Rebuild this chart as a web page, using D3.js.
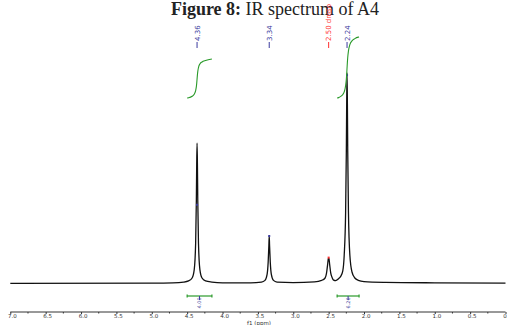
<!DOCTYPE html>
<html>
<head>
<meta charset="utf-8">
<script src="https://cdn.jsdelivr.net/npm/d3@7"></script>
<style>
  body { margin: 0; background: #fff; }
  svg { display: block; }
</style>
</head>
<body>
<div id="chart"></div>
<script>
// spectrum: chemical shift (ppm) and intensity
const shifts = [7.0, 5.0, 4.7, 4.55, 4.48, 4.43, 4.40, 4.38, 4.37, 4.365, 4.36, 4.355, 4.35, 4.34, 4.32, 4.29, 4.24, 4.15, 4.0,
    3.6, 3.45, 3.40, 3.37, 3.355, 3.345, 3.34, 3.335, 3.325, 3.31, 3.28, 3.23, 3.0,
    2.7, 2.6, 2.55, 2.53, 2.515, 2.505, 2.50, 2.495, 2.485, 2.47, 2.45, 2.43, 2.40, 2.36, 2.33, 2.30, 2.28, 2.26, 2.25, 2.245,
    2.24, 2.235, 2.23, 2.22, 2.20, 2.17, 2.13, 2.08, 2.0, 1.7, 1.0, 0.0];
const intensity = [0.3, 0.4, 0.5, 0.8, 1.3, 2.5, 6, 17, 35, 50, 58.7, 50, 35, 17, 6, 2.5, 1.3, 0.8, 0.5,
    0.5, 0.8, 1.5, 4, 9, 16, 20, 16, 9, 4, 1.5, 0.8, 0.6,
    0.9, 1.5, 2.5, 4.5, 8, 10.5, 10.8, 10.5, 8, 4.5, 2.6, 1.6, 1.4, 2.2, 3.2, 5.5, 12, 30, 55, 75,
    88, 75, 55, 30, 12, 5, 2.5, 1.5, 1.0, 0.7, 0.5, 0.4];

// picked peaks
const peakShifts = [4.36, 3.34, 2.50, 2.24];
const peakLabels = ["4.36", "3.34", "2.50 dmso", "2.24"];
const peakColors = ["#3b3b9e", "#3b3b9e", "#ff3030", "#3b3b9e"];
const peakMarks = [33, 20, 11, 87];

// integrals
const integralFrom = [4.50, 2.38];
const integralTo = [4.15, 2.07];
const integralValues = ["4.00", "6.26"];
const integralSizes = [4.00, 6.26];

const ticks = [7.0, 6.5, 6.0, 5.5, 5.0, 4.5, 4.0, 3.5, 3.0, 2.5, 2.0, 1.5, 1.0, 0.5, 0.0];

const width = 507, height = 325;
const green = "#2a9a2a";

const svg = d3.select("#chart").append("svg")
    .attr("width", width)
    .attr("height", height);

const x = d3.scaleLinear().domain([7.0, 0.0]).range([10.3, 505.5]);
const y = d3.scaleLinear().domain([0, 100]).range([284, 44]);

// title
svg.append("text")
    .attr("x", 275)
    .attr("y", 15)
    .attr("text-anchor", "middle")
    .style("font-family", "'Liberation Serif', serif")
    .style("font-size", "18px")
    .attr("fill", "#222")
    .call(t => {
        t.append("tspan").attr("font-weight", "bold").text("Figure 8:");
        t.append("tspan").text(" IR spectrum of A4");
    });

// spectrum
const points = shifts.map((s, i) => [s, intensity[i]]);
const line = d3.line()
    .x(d => x(d[0]))
    .y(d => y(d[1]))
    .curve(d3.curveMonotoneX);
svg.append("path")
    .datum(points)
    .attr("d", line)
    .attr("fill", "none")
    .attr("stroke", "#111")
    .attr("stroke-width", 1.3);

// peak labels
const peaks = svg.append("g");
peakShifts.forEach((p, i) => {
    const px = x(p);
    peaks.append("line")
        .attr("x1", px).attr("x2", px)
        .attr("y1", 42).attr("y2", 48)
        .attr("stroke", peakColors[i])
        .attr("stroke-width", 1);
    peaks.append("text")
        .attr("transform", `translate(${px + 2.5},41) rotate(-90)`)
        .attr("text-anchor", "start")
        .style("font-family", "'DejaVu Sans', sans-serif")
        .style("font-size", "7px")
        .attr("fill", peakColors[i])
        .text(peakLabels[i]);
    peaks.append("rect")
        .attr("x", px - 1).attr("y", y(peakMarks[i]) - 1)
        .attr("width", 2).attr("height", 2)
        .attr("fill", peakColors[i]);
});

// integral curves and brackets
const integ = svg.append("g");
integralFrom.forEach((from, i) => {
    const to = integralTo[i];
    const inside = points.filter(d => d[0] <= from && d[0] >= to);
    const seg = [[from, 0.3]].concat(inside).concat([[to, 0.3]]);
    const cum = [0];
    for (let k = 1; k < seg.length; k++) {
        cum.push(cum[k - 1] + (seg[k - 1][0] - seg[k][0]) * (seg[k - 1][1] + seg[k][1]) / 2);
    }
    const total = cum[cum.length - 1];
    const iy = d3.scaleLinear().domain([0, total]).range([98, 98 - integralSizes[i] * 9.75]);
    integ.append("path")
        .datum(seg.map((d, k) => [d[0], cum[k]]))
        .attr("d", d3.line().x(d => x(d[0])).y(d => iy(d[1])).curve(d3.curveMonotoneX))
        .attr("fill", "none")
        .attr("stroke", green)
        .attr("stroke-width", 1.1);

    const x0 = x(from), x1 = x(to), xm = (x0 + x1) / 2;
    integ.append("line")
        .attr("x1", x0).attr("x2", x1).attr("y1", 296).attr("y2", 296)
        .attr("stroke", green).attr("stroke-width", 1.2);
    [x0, x1].forEach(xe => integ.append("line")
        .attr("x1", xe).attr("x2", xe).attr("y1", 294.5).attr("y2", 297.5)
        .attr("stroke", green).attr("stroke-width", 1.2));
    integ.append("line")
        .attr("x1", xm).attr("x2", xm).attr("y1", 296).attr("y2", 300)
        .attr("stroke", "#3b3b9e").attr("stroke-width", 1);
    integ.append("text")
        .attr("transform", `translate(${xm + 1.8},308.5) rotate(-90)`)
        .attr("text-anchor", "start")
        .style("font-family", "'DejaVu Sans', sans-serif")
        .style("font-size", "5px")
        .attr("fill", "#3b3b9e")
        .text(integralValues[i]);
});

// x axis
const axis = d3.axisBottom(x)
    .tickValues(ticks)
    .tickSize(2)
    .tickPadding(0.5)
    .tickFormat(d3.format(".1f"));
const gx = svg.append("g")
    .attr("transform", "translate(0,312)")
    .call(axis);
gx.select(".domain").attr("stroke", "#333").attr("d", `M${x(7.0)},0H${x(0.0)}`);
gx.selectAll(".tick line").attr("stroke", "#333");
gx.selectAll(".tick text")
    .attr("dx", 1.5)
    .style("font-family", "'DejaVu Sans', sans-serif")
    .style("font-size", "5.5px")
    .attr("fill", "#333");
// minor ticks
gx.selectAll(".minor")
    .data(ticks.slice(1).map(t => t + 0.25))
    .enter().append("line")
    .attr("x1", d => x(d)).attr("x2", d => x(d))
    .attr("y1", 0).attr("y2", 1.5)
    .attr("stroke", "#333");

svg.append("text")
    .attr("x", 259)
    .attr("y", 324.5)
    .attr("text-anchor", "middle")
    .style("font-family", "'DejaVu Sans', sans-serif")
    .style("font-size", "5.5px")
    .attr("fill", "#333")
    .text("f1 (ppm)");
</script>
</body>
</html>
